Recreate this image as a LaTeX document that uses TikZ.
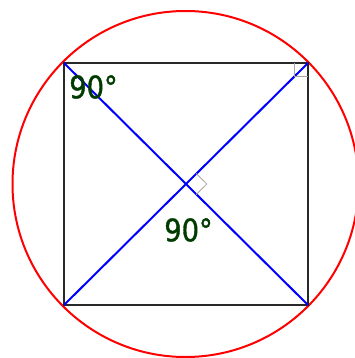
\documentclass[tikz,border=0pt]{standalone}
\usepackage{fontspec}
\setmainfont{DejaVu Sans}
\newfontfamily\lblfont[FakeBold=1.2,FakeStretch=0.88]{DejaVu Sans}
\usetikzlibrary{calc}
\definecolor{lblgreen}{RGB}{0,60,0}
\definecolor{sqgray}{RGB}{40,40,40}
\tikzset{
  circ/.style={draw=red, line width=2pt},
  sq/.style={draw=sqgray, line width=2.2pt},
  diag/.style={draw=blue, line width=2pt},
  ramark/.style={draw=gray!70, line width=0.8pt},
  lbl/.style={text=lblgreen, font=\lblfont\fontsize{31}{31}\selectfont, inner sep=0pt}
}
\begin{document}
\begin{tikzpicture}[x=1pt,y=-1pt]
\useasboundingbox (0,0) rectangle (355,358);
\coordinate (O) at (185.5,184);
\coordinate (A) at (64,63);
\coordinate (B) at (308,63);
\coordinate (C) at (308,305);
\coordinate (D) at (64,305);
\draw[circ] (O) circle (173);
\draw[sq] (A) -- (B) -- (C) -- (D) -- cycle;
\draw[diag] (A) -- (C);
\draw[diag] (D) -- (B);
\coordinate (m1) at ($(O)!15pt!(B)$);
\coordinate (m3) at ($(O)!15pt!(C)$);
\draw[ramark] (m1) -- ($(m1)+(m3)-(O)$) -- (m3);
\draw[ramark] ($(B)+(-14,0)$) -- ($(B)+(-14,13)$) -- ($(B)+(0,13)$);
\node[lbl] (l1) at (93.5,87) {90°};
\node[lbl] (l2) at (188.5,230) {90°};
\end{tikzpicture}
\end{document}
